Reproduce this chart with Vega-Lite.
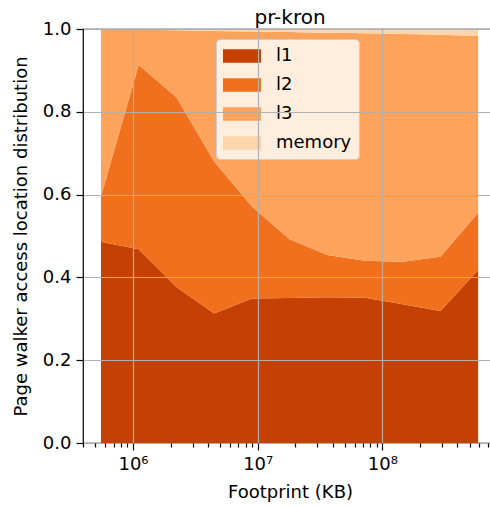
{
  "$schema": "https://vega.github.io/schema/vega-lite/v6.json",
  "width": 414,
  "height": 414,
  "autosize": "none",
  "padding": {"left": 83, "top": 29, "right": 0, "bottom": 63},
  "background": "white",
  "title": {"text": "pr-kron", "fontSize": 20, "font": "DejaVu Sans", "fontWeight": "normal", "color": "black", "offset": 6, "dy": 14},
  "config": {"view": {"stroke": "black", "strokeWidth": 1.2}},
  "data": {"values": [
    {"footprint": 553000, "level": "l1", "frac": 0.486},
    {"footprint": 1110000, "level": "l1", "frac": 0.468},
    {"footprint": 2228000, "level": "l1", "frac": 0.377},
    {"footprint": 4473000, "level": "l1", "frac": 0.313},
    {"footprint": 8974000, "level": "l1", "frac": 0.349},
    {"footprint": 18010000, "level": "l1", "frac": 0.350},
    {"footprint": 36140000, "level": "l1", "frac": 0.352},
    {"footprint": 72530000, "level": "l1", "frac": 0.351},
    {"footprint": 145500000, "level": "l1", "frac": 0.335},
    {"footprint": 292100000, "level": "l1", "frac": 0.319},
    {"footprint": 586100000, "level": "l1", "frac": 0.418},
    {"footprint": 553000, "level": "l2", "frac": 0.109},
    {"footprint": 1110000, "level": "l2", "frac": 0.445},
    {"footprint": 2228000, "level": "l2", "frac": 0.458},
    {"footprint": 4473000, "level": "l2", "frac": 0.367},
    {"footprint": 8974000, "level": "l2", "frac": 0.222},
    {"footprint": 18010000, "level": "l2", "frac": 0.142},
    {"footprint": 36140000, "level": "l2", "frac": 0.102},
    {"footprint": 72530000, "level": "l2", "frac": 0.089},
    {"footprint": 145500000, "level": "l2", "frac": 0.103},
    {"footprint": 292100000, "level": "l2", "frac": 0.131},
    {"footprint": 586100000, "level": "l2", "frac": 0.138},
    {"footprint": 553000, "level": "l3", "frac": 0.404},
    {"footprint": 1110000, "level": "l3", "frac": 0.085},
    {"footprint": 2228000, "level": "l3", "frac": 0.162},
    {"footprint": 4473000, "level": "l3", "frac": 0.315},
    {"footprint": 8974000, "level": "l3", "frac": 0.423},
    {"footprint": 18010000, "level": "l3", "frac": 0.501},
    {"footprint": 36140000, "level": "l3", "frac": 0.537},
    {"footprint": 72530000, "level": "l3", "frac": 0.550},
    {"footprint": 145500000, "level": "l3", "frac": 0.550},
    {"footprint": 292100000, "level": "l3", "frac": 0.536},
    {"footprint": 586100000, "level": "l3", "frac": 0.427},
    {"footprint": 553000, "level": "memory", "frac": 0.001},
    {"footprint": 1110000, "level": "memory", "frac": 0.002},
    {"footprint": 2228000, "level": "memory", "frac": 0.003},
    {"footprint": 4473000, "level": "memory", "frac": 0.005},
    {"footprint": 8974000, "level": "memory", "frac": 0.006},
    {"footprint": 18010000, "level": "memory", "frac": 0.007},
    {"footprint": 36140000, "level": "memory", "frac": 0.009},
    {"footprint": 72530000, "level": "memory", "frac": 0.010},
    {"footprint": 145500000, "level": "memory", "frac": 0.012},
    {"footprint": 292100000, "level": "memory", "frac": 0.014},
    {"footprint": 586100000, "level": "memory", "frac": 0.017}
  ]},
  "mark": {"type": "area", "clip": true},
  "encoding": {
    "x": {
      "field": "footprint", "type": "quantitative",
      "scale": {"type": "log", "domain": [397000, 830000000], "nice": false},
      "axis": {
        "title": "Footprint (KB)",
        "values": [400000, 500000, 600000, 700000, 800000, 900000, 1000000, 2000000, 3000000, 4000000, 5000000, 6000000, 7000000, 8000000, 9000000, 10000000, 20000000, 30000000, 40000000, 50000000, 60000000, 70000000, 80000000, 90000000, 100000000, 200000000, 300000000, 400000000, 500000000, 600000000, 700000000, 800000000],
        "labelExpr": "datum.value == 1000000 ? '10⁶' : datum.value == 10000000 ? '10⁷' : datum.value == 100000000 ? '10⁸' : ''",
        "tickSize": {"condition": {"test": "datum.value == 1000000 || datum.value == 10000000 || datum.value == 100000000", "value": 7}, "value": 4},
        "gridOpacity": {"condition": {"test": "datum.value == 1000000 || datum.value == 10000000 || datum.value == 100000000", "value": 1}, "value": 0},
        "grid": true, "gridColor": "#b0b0b0", "gridWidth": 1.2, "zindex": 1,
        "domain": false, "tickColor": "black", "tickWidth": 1.2,
        "labelFont": "DejaVu Sans", "labelFontSize": 18, "labelColor": "black", "labelPadding": 5,
        "labelFlush": false, "labelOverlap": false,
        "titleFont": "DejaVu Sans", "titleFontSize": 18, "titleFontWeight": "normal", "titleColor": "black", "titlePadding": 10
      }
    },
    "y": {
      "field": "frac", "type": "quantitative", "stack": "zero",
      "scale": {"domain": [0, 1], "nice": false},
      "axis": {
        "title": "Page walker access location distribution",
        "values": [0, 0.2, 0.4, 0.6, 0.8, 1.0], "format": ".1f",
        "grid": true, "gridColor": "#b0b0b0", "gridWidth": 1.2, "zindex": 1,
        "domain": false, "tickColor": "black", "tickWidth": 1.2, "tickSize": 7,
        "labelFont": "DejaVu Sans", "labelFontSize": 18, "labelColor": "black", "labelPadding": 5,
        "titleFont": "DejaVu Sans", "titleFontSize": 18, "titleFontWeight": "normal", "titleColor": "black", "titlePadding": 12
      }
    },
    "order": {"field": "level", "type": "nominal", "sort": "ascending"},
    "color": {
      "field": "level", "type": "nominal",
      "scale": {"domain": ["l1", "l2", "l3", "memory"], "range": ["#c44103", "#f1701d", "#fda35c", "#fdd5ab"]},
      "legend": {
        "title": null, "orient": "none", "legendX": 133, "legendY": 10,
        "symbolType": "M-1,-0.665H2.8V0.665H-1Z", "symbolSize": 400, "symbolStrokeWidth": 0, "symbolOpacity": 1,
        "labelFont": "DejaVu Sans", "labelFontSize": 18, "labelColor": "black", "labelOffset": 33,
        "fillColor": "rgba(255,255,255,0.8)", "strokeColor": "#cccccc", "cornerRadius": 4, "padding": 7, "rowPadding": 10
      }
    }
  }
}
